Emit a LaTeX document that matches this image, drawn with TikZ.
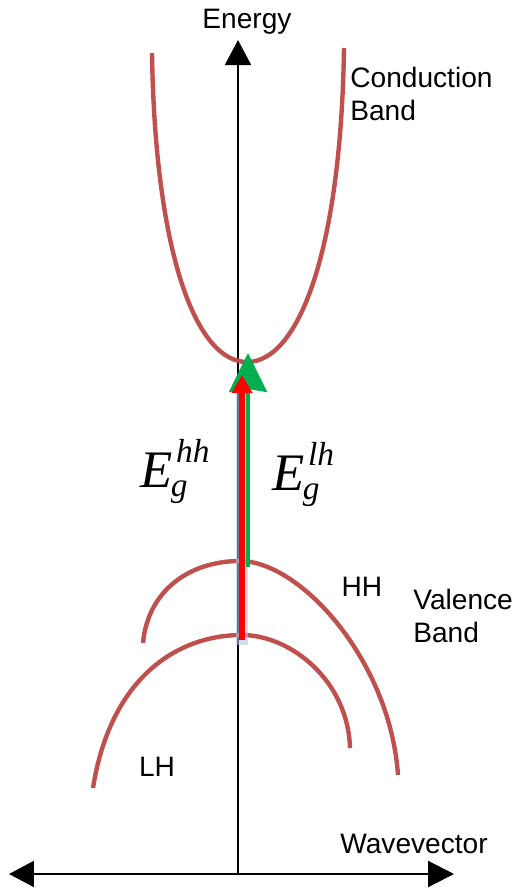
\documentclass[tikz,border=0pt]{standalone}
\usepackage{fontspec}
\setmainfont{Liberation Sans}
\newfontfamily\timesfont{Liberation Serif}
\usetikzlibrary{positioning,arrows.meta,calc}
\definecolor{bandred}{RGB}{192,80,77}
\definecolor{gapgreen}{RGB}{0,176,80}
\definecolor{gapred}{RGB}{255,0,0}
\definecolor{glowblue}{RGB}{175,198,232}
\newcommand{\gaplbl}[1]{{\timesfont\itshape\fontsize{30}{30}\selectfont
  E\rlap{\hspace{2pt}\fontsize{19}{19}\selectfont\raisebox{14pt}{#1}}%
  \hspace{-1pt}\raisebox{-5.5pt}{\fontsize{19}{19}\selectfont g}}}

\begin{document}
\begin{tikzpicture}[x=0.02cm,y=-0.02cm,>=Latex,
    axis/.style={draw=black,line width=1.3pt},
    band/.style={draw=bandred,line width=2.5pt},
    lbl/.style={font=\fontsize{16}{18.7}\selectfont,inner sep=0pt,align=left}]
  \useasboundingbox (0,0) rectangle (516,890);
  % axes
  \coordinate (o) at (238,874);
  \coordinate (kl) at (9,874);
  \coordinate (kr) at (454,874);
  \coordinate (et) at (238,40);
  \draw[axis,{Triangle[length=0.5cm,width=0.52cm]}-{Triangle[length=0.52cm,width=0.52cm]}] (kl) -- (kr);
  \draw[axis,line width=1.1pt,-{Triangle[length=0.5cm,width=0.52cm]}] (o) -- (et);
  \node[lbl,anchor=base] (energy) at (247,28) {Energy};
  \node[lbl,anchor=base west] (wave) at (340,853) {Wavevector};
  % bands
  \coordinate (cb) at (247,362);
  \coordinate (hh) at (240,561);
  \coordinate (lh) at (242,635);
  \draw[band] (152,53) .. controls (155,250) and (195,362) .. (cb)
    .. controls (299,362) and (341,250) .. (344,48);
  \draw[band] (143,643) .. controls (148,590) and (190,561) .. (hh)
    .. controls (300,561) and (390,660) .. (398,775);
  \draw[band] (93,788) .. controls (110,680) and (175,635) .. (lh)
    .. controls (290,635) and (348,680) .. (350,748);
  \node[lbl,anchor=base west] (cblbl) at (350,120) {Conduction\\Band};
  \node[lbl,anchor=base west] (vblbl) at (413,642) {Valence\\Band};
  \node[lbl] (hhlbl) at (362,587) {HH};
  \node[lbl] (lhlbl) at (157,767) {LH};
  % gap arrows
  \draw[glowblue,line width=6.5pt,opacity=0.6] ($(lh)+(0,10)$) -- ($(lh|-cb)+(0,25)$);
  \draw[gapgreen,line width=1.8pt,-{Stealth[length=0.78cm,width=0.76cm,inset=0.06cm]}]
    ($(cb|-hh)+(1,6)$) -- ($(cb)+(1,-9)$);
  \draw[gapred,line width=3.4pt,-{Triangle[length=0.36cm,width=0.4cm]}]
    ($(lh)+(0,5)$) -- ($(lh|-cb)+(0,13)$);
  \node[inner sep=0pt,anchor=base west] (eghh) at (140,487) {\gaplbl{hh}};
  \node[inner sep=0pt,anchor=base west] (eglh) at (272,490) {\gaplbl{lh}};
\end{tikzpicture}
\end{document}
